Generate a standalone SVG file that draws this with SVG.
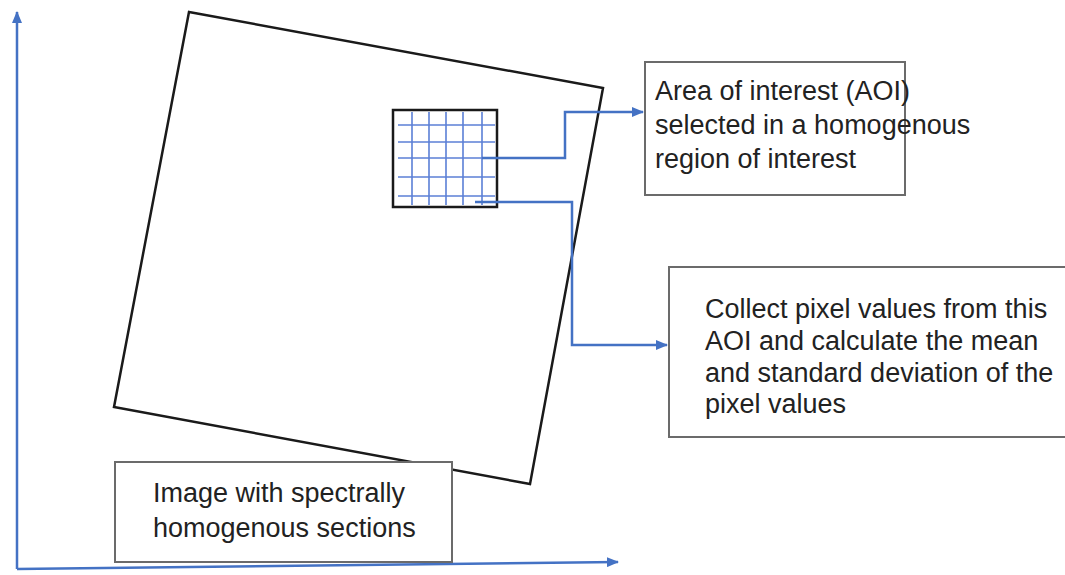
<svg xmlns="http://www.w3.org/2000/svg" width="1065" height="575" viewBox="0 0 1065 575">
  <defs>
    <marker id="arrow" markerWidth="12" markerHeight="10" refX="11" refY="5" orient="auto" markerUnits="userSpaceOnUse">
      <path d="M0,0 L12,5 L0,10 Z" fill="#4472C4"/>
    </marker>
    <style>
      .axis { fill: none; stroke: #4472C4; stroke-width: 2.5; }
      .link { fill: none; stroke: #4472C4; stroke-width: 2.5; }
      .box { fill: #ffffff; stroke: #6b6b6b; stroke-width: 2; }
      .scene { fill: none; stroke: #1a1a1a; stroke-width: 2.5; }
      .grid line { stroke: #5b7fd6; stroke-width: 1.6; }
      .label { font-family: "Liberation Sans Narrow", "Liberation Sans", Arial, sans-serif; font-size: 27px; fill: #222222; }
    </style>
  </defs>
  <rect width="1065" height="575" fill="#ffffff"/>

  <!-- coordinate axes -->
  <g id="axes">
    <line class="axis" x1="17" y1="569" x2="17" y2="12" marker-end="url(#arrow)"/>
    <line class="axis" x1="17" y1="569" x2="618" y2="562" marker-end="url(#arrow)"/>
  </g>

  <!-- tilted image footprint -->
  <g id="image-footprint">
    <polygon class="scene" points="189,12 603,88 530,484 114,407"/>
  </g>

  <!-- AOI sampling grid -->
  <g id="aoi-grid">
    <g class="grid">
      <line x1="412" y1="112" x2="412" y2="205"/>
      <line x1="429" y1="112" x2="429" y2="205"/>
      <line x1="446" y1="112" x2="446" y2="205"/>
      <line x1="463" y1="112" x2="463" y2="205"/>
      <line x1="482" y1="112" x2="482" y2="205"/>
      <line x1="398" y1="125" x2="495" y2="125"/>
      <line x1="398" y1="142" x2="495" y2="142"/>
      <line x1="398" y1="158" x2="495" y2="158"/>
      <line x1="398" y1="177" x2="495" y2="177"/>
      <line x1="398" y1="196" x2="495" y2="196"/>
    </g>
    <rect x="393" y="110" width="104" height="97" fill="none" stroke="#1a1a1a" stroke-width="2.5"/>
  </g>

  <!-- connectors -->
  <g id="connectors">
    <polyline class="link" points="482,158 565,158 565,112 643,112" marker-end="url(#arrow)"/>
    <polyline class="link" points="475,202 572,202 572,345 667,345" marker-end="url(#arrow)"/>
  </g>

  <!-- caption boxes -->
  <g id="node-aoi">
    <rect class="box" x="645" y="62" width="260" height="133"/>
    <text class="label" x="655" y="100">Area of interest (AOI)</text>
    <text class="label" x="655" y="134">selected in a homogenous</text>
    <text class="label" x="655" y="168">region of interest</text>
  </g>

  <g id="node-stats">
    <rect class="box" x="669" y="267" width="400" height="170"/>
    <text class="label" x="705" y="318">Collect pixel values from this</text>
    <text class="label" x="705" y="350">AOI and calculate the mean</text>
    <text class="label" x="705" y="382">and standard deviation of the</text>
    <text class="label" x="705" y="413">pixel values</text>
  </g>

  <g id="node-image">
    <rect class="box" x="115" y="462" width="337" height="100"/>
    <text class="label" x="153" y="502">Image with spectrally</text>
    <text class="label" x="153" y="537">homogenous sections</text>
  </g>
</svg>
